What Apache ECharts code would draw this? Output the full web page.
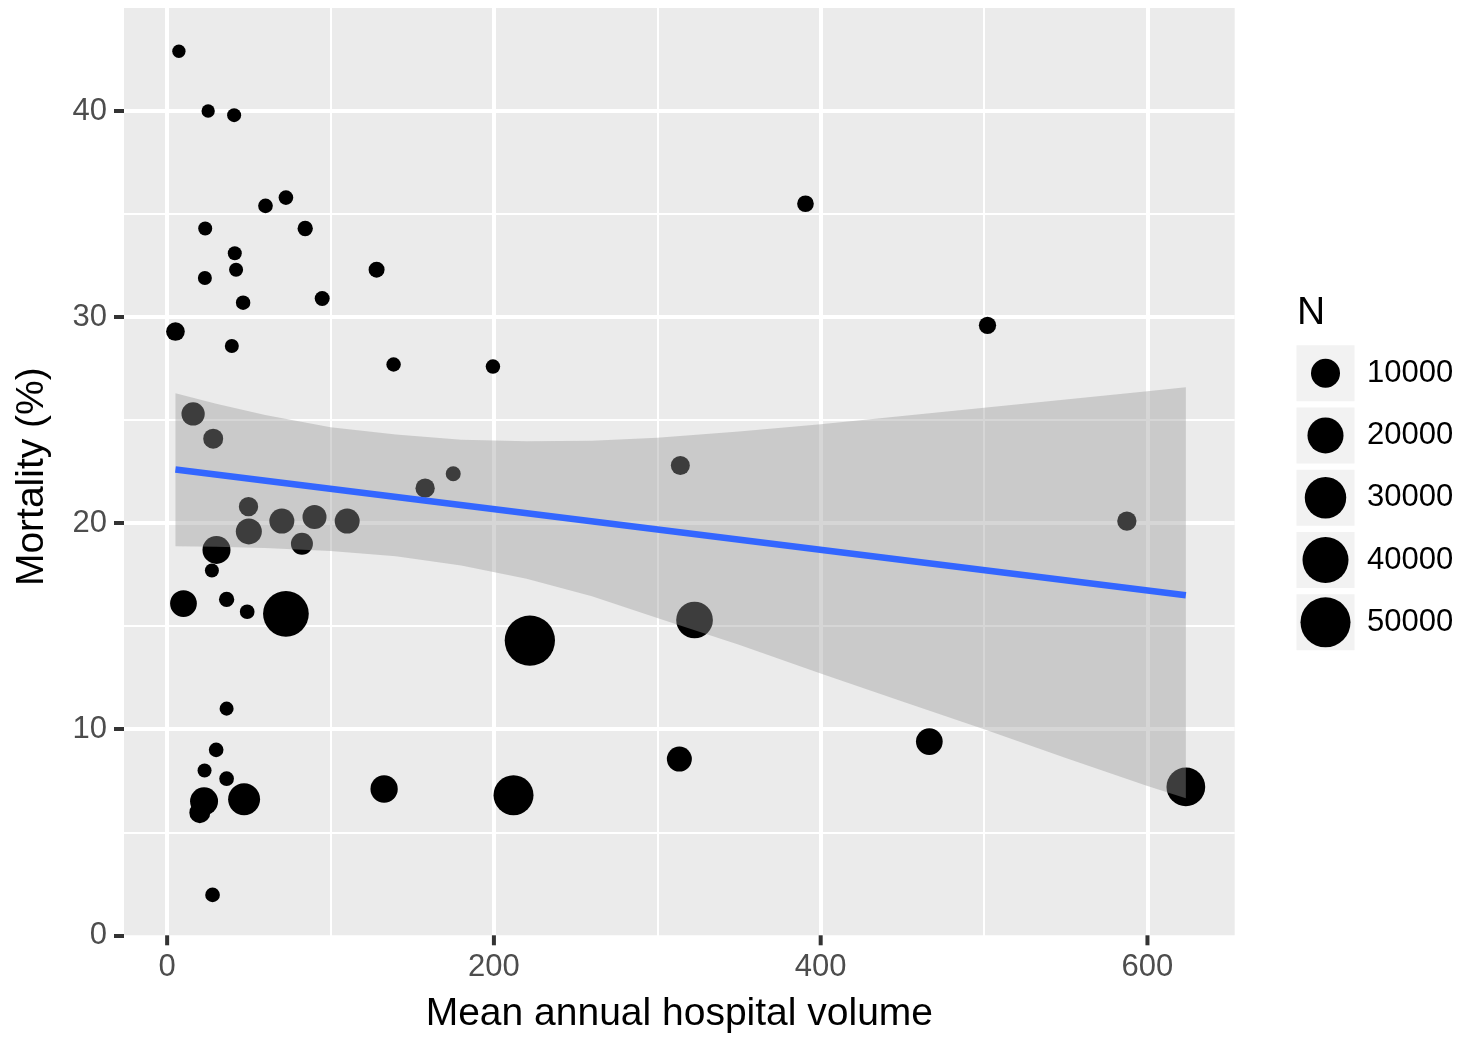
<!DOCTYPE html>
<html><head><meta charset="utf-8">
<script src="https://cdn.jsdelivr.net/npm/echarts@6/dist/echarts.min.js"></script>
<style>html,body{margin:0;padding:0;background:#fff}#c{width:1463px;height:1038px}</style>
</head><body><div id="c"></div>
<script>
// ---- data ----
const volume = [7.2, 25.1, 41.0, 60.2, 72.7, 84.5, 23.3, 41.4, 42.2, 23.1, 46.5, 94.9, 128.2, 5.1, 39.6, 138.6, 199.4, 390.7, 502.1,
  15.9, 28.2, 175.1, 157.9, 314.1, 49.8, 50.0, 70.2, 90.2, 110.2, 82.5, 30.2, 27.4, 10.0, 36.4, 49.0, 72.7, 222.0, 322.8, 587.4,
  36.4, 30.0, 22.9, 36.4, 22.6, 20.0, 47.1, 132.8, 212.0, 313.5, 466.5, 623.5, 27.8];
const mortality = [42.9, 40.0, 39.8, 35.4, 35.8, 34.3, 34.3, 33.1, 32.3, 31.9, 30.7, 30.9, 32.3, 29.3, 28.6, 27.7, 27.6, 35.5, 29.6,
  25.3, 24.1, 22.4, 21.7, 22.8, 20.8, 19.6, 20.1, 20.3, 20.1, 19.0, 18.7, 17.7, 16.1, 16.3, 15.7, 15.6, 14.3, 15.3, 20.1,
  11.0, 9.0, 8.0, 7.6, 6.5, 5.95, 6.6, 7.1, 6.8, 8.55, 9.4, 7.2, 1.96];
const sampleN = [60, 60, 140, 250, 250, 380, 140, 140, 140, 140, 210, 310, 550, 1550, 140, 210, 210, 760, 970,
  4400, 2200, 310, 1850, 1700, 1850, 6800, 5850, 5000, 5850, 3450, 8850, 140, 7500, 380, 250, 39300, 50700, 21100, 1850,
  140, 250, 140, 250, 8850, 2800, 13800, 8100, 27100, 5850, 7500, 24700, 250];

// linear fit and its confidence band
const fitX = [5.1, 623.5];
const fitY = [22.6, 16.5];
const bandX     = [5.1,   30,    60,    100,   140,   180,   220,   260,   300,   350,   400,  450,   500,  550,  600,  623.5];
const bandUpper = [26.3,  25.8,  25.25, 24.65, 24.3,  24.05, 23.97, 24.0,  24.15, 24.45, 24.8, 25.2,  25.6, 26.0, 26.4, 26.6];
const bandLower = [18.88, 18.86, 18.8,  18.65, 18.4,  17.95, 17.3,  16.45, 15.4,  14.1,  12.7, 11.35, 10.0, 8.6,  7.25, 6.65];

// tick labels
const xTicks = [0, 200, 400, 600];
const xMinor = [100, 300, 500];
const yTicks = [0, 10, 20, 30, 40];
const yMinor = [5, 15, 25, 35];
const legendBreaks = [10000, 20000, 30000, 40000, 50000];

// ---- styling / layout ----
const FONT = '"Liberation Sans", Arial, sans-serif';
const sizeOf = n => 12 + 0.17 * Math.sqrt(n);
const TICK_LEN = 10;
const X_MIN = -26.4, X_MAX = 653.4, Y_TOP = 45;
const PANEL_TOP = 8, PANEL_H = 927.3;           // grey panel covers y = 0 .. 45
const pxPerY = PANEL_H / Y_TOP;
const Y_MIN = -TICK_LEN / pxPerY;              // grid reaches TICK_LEN px below the panel for the x ticks

const gridLines = [
  ...xMinor.map(v => ({ xAxis: v, lineStyle: { width: 2 } })),
  ...yMinor.map(v => ({ yAxis: v, lineStyle: { width: 2 } })),
  ...xTicks.map(v => ({ xAxis: v, lineStyle: { width: 4 } })),
  ...yTicks.filter(v => v > 0).map(v => ({ yAxis: v, lineStyle: { width: 4 } }))
];

const chart = echarts.init(document.getElementById('c'), null, { renderer: 'canvas' });
chart.setOption({
  animation: false,
  backgroundColor: '#ffffff',
  title: {
    text: 'N', left: 1297, top: 294, padding: 0,
    textStyle: { fontSize: 39, fontWeight: 'normal', color: '#000000', fontFamily: FONT }
  },
  grid: [
    { left: 124, top: PANEL_TOP, width: 1110.7, height: PANEL_H + TICK_LEN, show: false,
      containLabel: false, outerBoundsMode: 'none' },
    { left: 1296, top: 342, width: 59, height: 311.5, show: false, containLabel: false, outerBoundsMode: 'none' }
  ],
  xAxis: [
    {
      type: 'value', gridIndex: 0, min: X_MIN, max: X_MAX, z: 10, position: 'bottom',
      axisLine: { show: false, onZero: false },
      axisTick: { show: false },
      axisLabel: { customValues: xTicks, margin: 17 - TICK_LEN, fontSize: 31, color: '#4D4D4D', fontFamily: FONT },
      splitLine: { show: false },
      name: 'Mean annual hospital volume', nameLocation: 'middle', nameGap: 59 - TICK_LEN,
      nameTextStyle: { fontSize: 39, color: '#000000', fontFamily: FONT }
    },
    {
      type: 'category', gridIndex: 1, data: ['key'], show: false
    }
  ],
  yAxis: [
    {
      type: 'value', gridIndex: 0, min: Y_MIN, max: Y_TOP, z: 10, position: 'left',
      axisLine: { show: false, onZero: false },
      axisTick: { show: true, inside: false, customValues: yTicks, length: TICK_LEN, lineStyle: { color: '#333333', width: 4 } },
      axisLabel: { customValues: yTicks, margin: 17, fontSize: 31, color: '#4D4D4D', fontFamily: FONT },
      splitLine: { show: false },
      name: 'Mortality (%)', nameLocation: 'middle', nameGap: 72, nameRotate: 90,
      nameTextStyle: { fontSize: 39, color: '#000000', fontFamily: FONT }
    },
    {
      type: 'category', gridIndex: 1, data: legendBreaks.map(String), inverse: true, position: 'right',
      axisLine: { show: false, onZero: false }, axisTick: { show: false }, splitLine: { show: false },
      axisLabel: { margin: 12, fontSize: 31, color: '#000000', fontFamily: FONT }
    }
  ],
  series: [
    {
      // grey panel background from y = 0 to the top of the axis
      name: 'panel', type: 'custom', coordinateSystem: 'cartesian2d', xAxisIndex: 0, yAxisIndex: 0, z: 0, silent: true,
      data: [[X_MIN, X_MAX, 0, Y_TOP]],
      encode: { x: [0, 1], y: [2, 3] },
      renderItem: (params, api) => {
        const a = api.coord([api.value(0), api.value(3)]);
        const b = api.coord([api.value(1), api.value(2)]);
        return { type: 'rect', shape: { x: a[0], y: a[1], width: b[0] - a[0], height: b[1] - a[1] }, style: { fill: '#EBEBEB' } };
      }
    },
    {
      name: 'points', type: 'scatter', xAxisIndex: 0, yAxisIndex: 0, z: 3, silent: true,
      data: volume.map((x, i) => [x, mortality[i], sampleN[i]]),
      symbol: 'circle',
      symbolSize: v => sizeOf(v[2]),
      itemStyle: { color: '#000000', opacity: 1 },
      markLine: {
        z: 1, silent: true, symbol: ['none', 'none'], label: { show: false },
        lineStyle: { color: '#FFFFFF', type: 'solid', opacity: 1 },
        emphasis: { disabled: true },
        data: gridLines
      }
    },
    {
      name: 'band', type: 'custom', coordinateSystem: 'cartesian2d', xAxisIndex: 0, yAxisIndex: 0, z: 4, silent: true,
      data: bandX.map((x, i) => [x, bandLower[i], bandUpper[i]]),
      encode: { x: 0, y: [1, 2] },
      renderItem: (params, api) => {
        if (params.dataIndex !== 0) return null;
        const pts = [];
        for (let i = 0; i < bandX.length; i++) pts.push(api.coord([bandX[i], bandUpper[i]]));
        for (let i = bandX.length - 1; i >= 0; i--) pts.push(api.coord([bandX[i], bandLower[i]]));
        return { type: 'polygon', shape: { points: pts }, style: { fill: 'rgba(153,153,153,0.4)' } };
      }
    },
    {
      name: 'fit', type: 'line', xAxisIndex: 0, yAxisIndex: 0, z: 5, silent: true,
      data: fitX.map((x, i) => [x, fitY[i]]),
      symbol: 'none',
      lineStyle: { color: '#3366FF', width: 6.5 }
    },
    {
      // x tick marks: a short segment hanging below the panel at each tick value
      name: 'xTickMarks', type: 'custom', coordinateSystem: 'cartesian2d', xAxisIndex: 0, yAxisIndex: 0,
      z: 20, silent: true, clip: false,
      data: xTicks.map(v => [v, 0]),
      encode: { x: 0, y: 1 },
      renderItem: (params, api) => {
        const p = api.coord([api.value(0), api.value(1)]);
        return {
          type: 'rect',
          shape: { x: p[0] - 2, y: p[1], width: 4, height: TICK_LEN },
          style: { fill: '#333333' }
        };
      }
    },
    {
      name: 'keys', type: 'scatter', xAxisIndex: 1, yAxisIndex: 1, z: 2, silent: true,
      data: legendBreaks.map((v, i) => [0, i]),
      symbol: 'rect', symbolSize: [58, 56],
      itemStyle: { color: '#F2F2F2', opacity: 1 }
    },
    {
      name: 'keyDots', type: 'scatter', xAxisIndex: 1, yAxisIndex: 1, z: 3, silent: true,
      data: legendBreaks.map((v, i) => [0, i, v]),
      symbol: 'circle', symbolSize: v => sizeOf(v[2]),
      itemStyle: { color: '#000000', opacity: 1 }
    }
  ]
});
</script>
</body></html>
